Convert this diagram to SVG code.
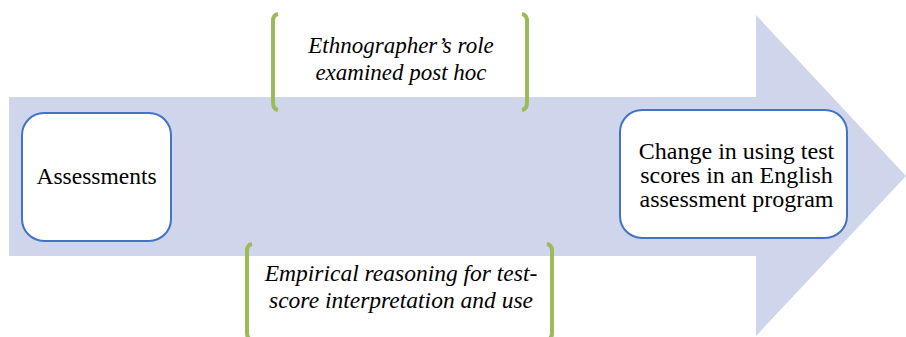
<svg xmlns="http://www.w3.org/2000/svg" width="906" height="337" viewBox="0 0 906 337">
<defs>
<style>
.box{fill:#fff;stroke:#4472C4;stroke-width:2}
.br{fill:none;stroke:#9BBB59;stroke-width:4;stroke-linecap:butt}
</style>
</defs>
<rect width="906" height="337" fill="#fff"/>
<g id="arrow">
<polygon points="9,97 756,97 756,15 906,176 756,336 756,256 9,256" fill="#CFD5EA"/>
</g>
<g id="connectors"></g>
<g id="assessments">
<rect class="box" x="22" y="113" width="149" height="128" rx="22"/>
<text x="96.5" y="184" font-family="Liberation Serif" font-size="23.5" text-anchor="middle">Assessments</text>
</g>
<g id="change">
<rect class="box" x="620" y="110" width="227" height="128" rx="22"/>
<text x="736.5" y="159" font-family="Liberation Serif" font-size="24" text-anchor="middle">Change in using test</text>
<text x="736.5" y="183" font-family="Liberation Serif" font-size="24" text-anchor="middle">scores in an English</text>
<text x="736.5" y="207" font-family="Liberation Serif" font-size="24" text-anchor="middle">assessment program</text>
</g>
<g id="ethnographer">
<path class="br" d="M278,14 Q273,15 273,21 L273,103 Q273,109 278,110"/>
<path class="br" d="M522,14 Q527,15 527,21 L527,103 Q527,109 522,110"/>
<text x="401" y="53" font-family="Liberation Serif" font-size="23" font-style="italic" text-anchor="middle">Ethnographer’s role</text>
<text x="401" y="80" font-family="Liberation Serif" font-size="23" font-style="italic" text-anchor="middle">examined post hoc</text>
</g>
<g id="empirical">
<path class="br" d="M252,244 Q247,245 247,251 L247,333 Q247,339 252,340"/>
<path class="br" d="M547,244 Q552,245 552,251 L552,333 Q552,339 547,340"/>
<text x="401" y="281" font-family="Liberation Serif" font-size="23.5" font-style="italic" text-anchor="middle">Empirical reasoning for test-</text>
<text x="401" y="308" font-family="Liberation Serif" font-size="23.5" font-style="italic" text-anchor="middle">score interpretation and use</text>
</g>
</svg>
